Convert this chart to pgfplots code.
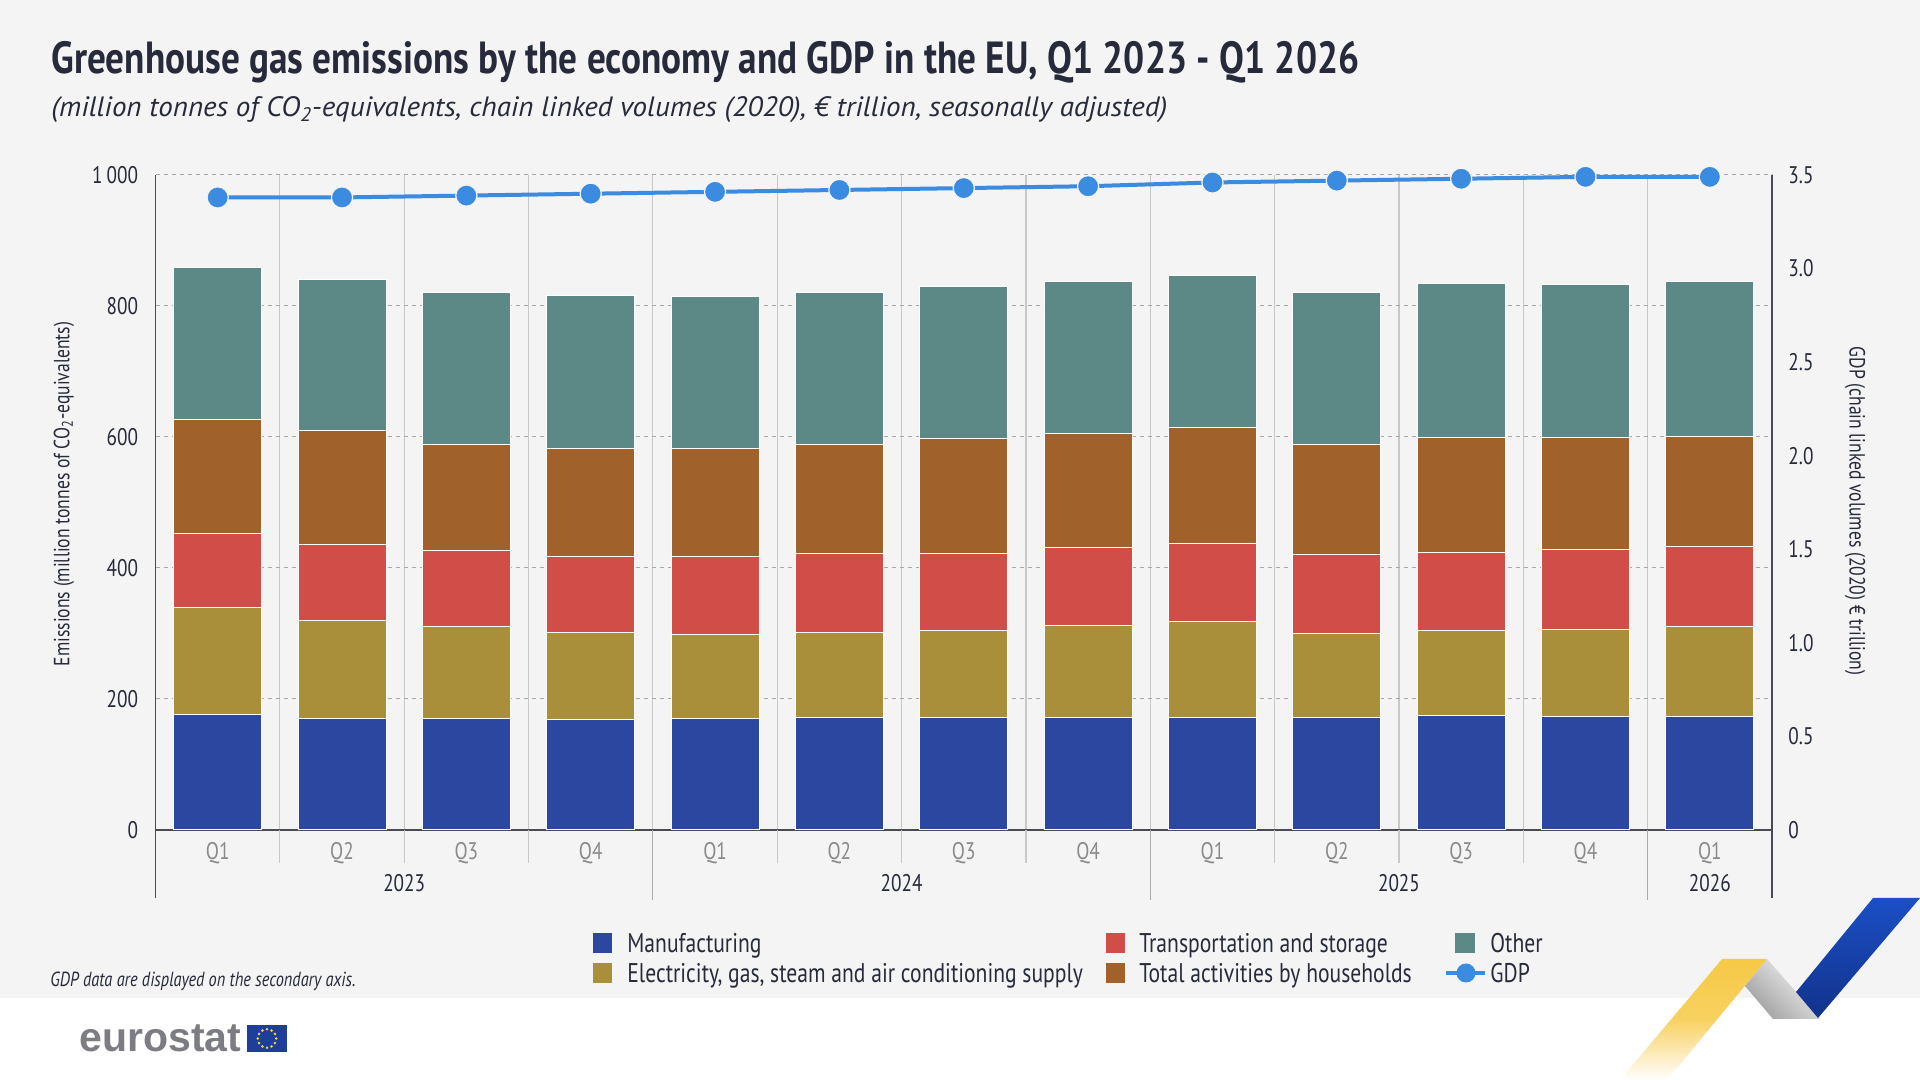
\documentclass[border=0pt]{standalone}
\usepackage{fontspec}
\usepackage{graphicx}
\usepackage{pgfplots}
\usepackage{pgfplotstable}
\pgfplotsset{compat=1.18}
\setmainfont{PT Sans}[FakeStretch=0.8]
\newfontfamily\titlefont{PT Sans}
\newfontfamily\logofont{Liberation Sans}
\definecolor{bg}{HTML}{F4F4F4}
\definecolor{txt}{HTML}{262A3A}
\definecolor{manu}{HTML}{2B47A0}
\definecolor{elec}{HTML}{AA8F3A}
\definecolor{trans}{HTML}{D04D48}
\definecolor{house}{HTML}{A0612B}
\definecolor{other}{HTML}{5C8985}
\definecolor{gdp}{HTML}{3B8BE0}
\definecolor{gridc}{HTML}{C8C8C8}
\definecolor{dashc}{HTML}{A8A8A8}
\definecolor{qgray}{HTML}{8A8A8A}
\definecolor{axisc}{HTML}{4A4A55}
\definecolor{logogray}{HTML}{7C7D82}
\definecolor{eublue}{HTML}{1E3F99}
\definecolor{eustar}{HTML}{F5D33B}
\definecolor{ribblue}{HTML}{1B4FC6}
\definecolor{ribblued}{HTML}{12328A}
\definecolor{ribyel}{HTML}{F6C945}

\pgfplotstableread{
x manu elec trans house other gdp
0  177 162 114 174 232 3.38
1  170 150 116 174 231 3.38
2  170 141 116 162 232 3.39
3  169 133 116 165 233 3.40
4  170 128 120 164 233 3.41
5  172 130 120 167 231 3.42
6  172 132 118 175 233 3.43
7  172 140 119 175 232 3.44
8  172 147 118 177 232 3.46
9  171 129 120 168 232 3.47
10 175 129 120 175 235 3.48
11 174 132 122 171 234 3.49
12 173 138 122 168 236 3.49
}\data

\begin{document}
\begin{tikzpicture}
% background
\fill[white] (0pt,0pt) rectangle (960pt,540pt);
\fill[bg] (0pt,41pt) rectangle (960pt,540pt);

\begin{axis}[
  at={(77.75pt,125pt)}, anchor=south west,
  width=808.25pt, height=327.5pt, scale only axis,
  xmin=-0.5, xmax=12.5, ymin=0, ymax=1000,
  ybar stacked, bar width=44pt,
  axis x line*=bottom, axis y line*=left,
  axis line style={-, draw=axisc, line width=0.8pt},
  xtick={0,...,12},
  xticklabels={Q1,Q2,Q3,Q4,Q1,Q2,Q3,Q4,Q1,Q2,Q3,Q4,Q1},
  xticklabel style={color=qgray, anchor=base, inner sep=0pt, yshift=-15pt, font=\fontsize{12}{13}\selectfont},
  minor xtick={0.5,1.5,...,11.5},
  xminorgrids, minor x grid style={gridc, line width=0.6pt},
  ytick={0,200,...,1000},
  yticklabels={0,200,400,600,800,1\,000},
  yticklabel style={color=txt, anchor=east, inner sep=0pt, xshift=-8.5pt, font=\fontsize{12}{13}\selectfont},
  ymajorgrids, major y grid style={dashc, dash pattern=on 2pt off 2pt, line width=0.5pt},
  major tick length=0pt, minor tick length=0pt,
  clip=false,
]
\addplot[fill=manu, draw=white, line width=0.5pt] table[x=x,y=manu]{\data};
\addplot[fill=elec, draw=white, line width=0.5pt] table[x=x,y=elec]{\data};
\addplot[fill=trans, draw=white, line width=0.5pt] table[x=x,y=trans]{\data};
\addplot[fill=house, draw=white, line width=0.5pt] table[x=x,y=house]{\data};
\addplot[fill=other, draw=white, line width=0.5pt] table[x=x,y=other]{\data};
\pgfplotsinvokeforeach{0.5,1.5,2.5,4.5,5.5,6.5,8.5,9.5,10.5}{
  \draw[gridc, line width=0.6pt] (axis cs:#1,0) -- ++(0pt,-16.5pt);
}
\pgfplotsinvokeforeach{3.5,7.5,11.5}{
  \draw[gridc!85!black, line width=0.6pt] (axis cs:#1,0) -- ++(0pt,-35pt);
}
\draw[axisc, line width=0.8pt] (axis cs:-0.5,0) -- ++(0pt,-34pt);
\node[anchor=base, inner sep=0pt, color=txt, font=\fontsize{12}{13}\selectfont] at ([yshift=-30.8pt]axis cs:1.5,0) {2023};
\node[anchor=base, inner sep=0pt, color=txt, font=\fontsize{12}{13}\selectfont] at ([yshift=-30.8pt]axis cs:5.5,0) {2024};
\node[anchor=base, inner sep=0pt, color=txt, font=\fontsize{12}{13}\selectfont] at ([yshift=-30.8pt]axis cs:9.5,0) {2025};
\node[anchor=base, inner sep=0pt, color=txt, font=\fontsize{12}{13}\selectfont] at ([yshift=-30.8pt]axis cs:12,0) {2026};
\end{axis}

\begin{axis}[
  at={(77.75pt,125pt)}, anchor=south west,
  width=808.25pt, height=327.5pt, scale only axis,
  xmin=-0.5, xmax=12.5, ymin=0, ymax=3.5,
  axis x line=none, axis y line*=right,
  axis line style={-, draw=axisc, line width=0.8pt},
  ytick={0,0.5,...,3.5},
  yticklabels={0,0.5,1.0,1.5,2.0,2.5,3.0,3.5},
  yticklabel style={color=txt, anchor=west, inner sep=0pt, xshift=8pt, font=\fontsize{12}{13}\selectfont},
  major tick length=0pt,
  clip=false,
]
\addplot[gdp, line width=2pt, mark=*, mark size=5.3pt, mark options={fill=gdp, draw=bg, line width=0.6pt}] table[x=x,y=gdp]{\data};
\draw[axisc, line width=0.8pt] (axis cs:12.5,0) -- ++(0pt,-34pt);
\end{axis}

% titles
\node[anchor=base west, inner sep=0pt, color=txt] at (25.5pt,503pt)
  {\resizebox{654pt}{\height}{\titlefont\bfseries\fontsize{22.5}{26}\selectfont Greenhouse gas emissions by the economy and GDP in the EU, Q1 2023 - Q1 2026}};
\node[anchor=base west, inner sep=0pt, color=txt] at (25.5pt,481.5pt)
  {\resizebox{558pt}{\height}{\titlefont\itshape\fontsize{14}{16}\selectfont (million tonnes of CO\textsubscript{2}-equivalents, chain linked volumes (2020), € trillion, seasonally adjusted)}};

% axis titles
\node[rotate=90, inner sep=0pt, color=txt, font=\fontsize{11}{12}\selectfont] at (32pt,293pt)
  {Emissions (million tonnes of CO\textsubscript{2}-equivalents)};
\node[rotate=-90, inner sep=0pt, color=txt, font=\fontsize{11}{12}\selectfont] at (927.5pt,284.5pt)
  {GDP (chain linked volumes (2020) € trillion)};

% legend
\fill[manu] (296.5pt,63.5pt) rectangle (306pt,73.5pt);
\fill[elec] (296.5pt,48.7pt) rectangle (306pt,58.7pt);
\fill[trans] (553pt,63.5pt) rectangle (562.5pt,73.5pt);
\fill[house] (553pt,48.7pt) rectangle (562.5pt,58.7pt);
\fill[other] (727.5pt,63.5pt) rectangle (737.5pt,73.5pt);
\draw[gdp, line width=2.4pt] (723pt,53.5pt) -- (742.5pt,53.5pt);
\fill[gdp] (733pt,53.5pt) circle (4.75pt);
\begin{scope}[every node/.style={anchor=base west, inner sep=0pt, color=txt, font=\fontsize{13.5}{15}\selectfont}]
\node at (313.5pt,63.5pt) {Manufacturing};
\node at (313.5pt,48.7pt) {Electricity, gas, steam and air conditioning supply};
\node at (569.5pt,63.5pt) {Transportation and storage};
\node at (569.5pt,48.7pt) {Total activities by households};
\node at (745pt,63.5pt) {Other};
\node at (745pt,48.7pt) {GDP};
\end{scope}

% note
\node[anchor=base west, inner sep=0pt, color=txt, font=\fontsize{10.2}{12}\selectfont\itshape] at (25pt,46.5pt)
  {GDP data are displayed on the secondary axis.};

% logo
\node[anchor=base west, inner sep=0pt, color=logogray, font=\logofont\bfseries\fontsize{20.5}{22}\selectfont] at (39.5pt,14pt) {eurostat};
\fill[eublue] (123.5pt,14pt) rectangle (143.5pt,27.5pt);
\foreach \a in {0,30,...,330} { \fill[eustar] (133.5pt,20.75pt) ++(\a:4.6pt) circle (0.7pt); }

% ribbon decoration
\shade[top color=ribyel, bottom color=white, middle color=ribyel!85] (861pt,60.5pt) -- (883.5pt,60.5pt) -- (833.5pt,0pt) -- (810pt,0pt) -- cycle;
\shade[left color=gray!75, right color=gray!8, shading angle=135] (872.5pt,47pt) -- (883.5pt,60.5pt) -- (910pt,30.5pt) -- (886.5pt,30.5pt) -- cycle;
\shade[top color=ribblue, bottom color=ribblued] (936.5pt,91pt) -- (960pt,91pt) -- (909pt,31pt) -- (898pt,44pt) -- cycle;
\end{tikzpicture}
\end{document}
